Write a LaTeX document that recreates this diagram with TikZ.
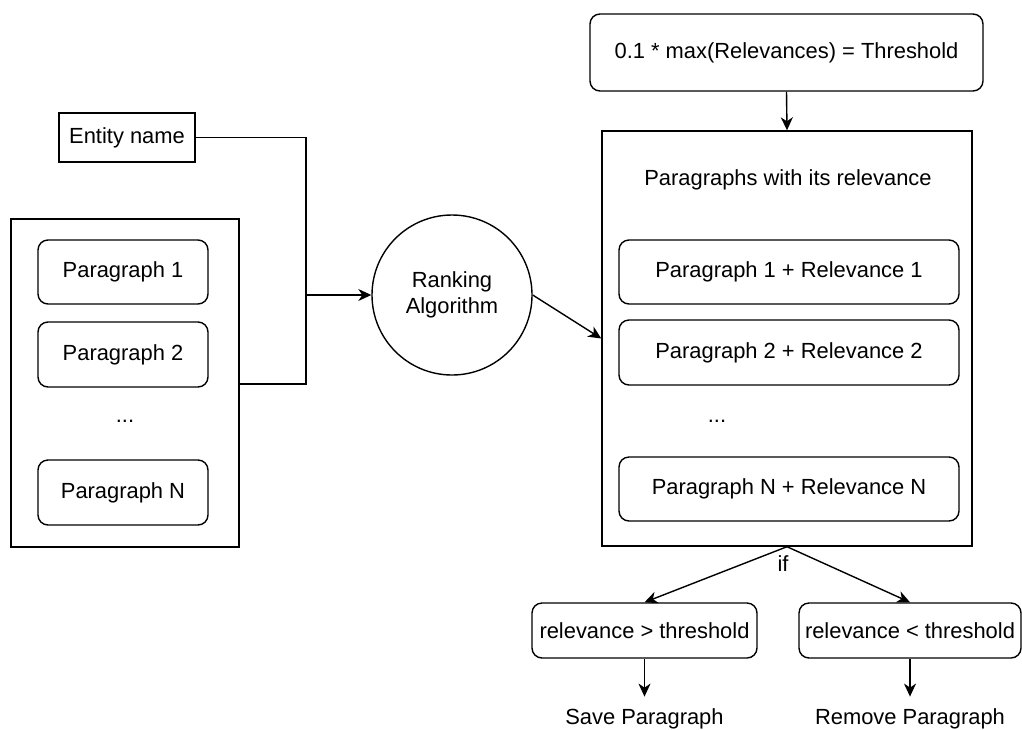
\documentclass[tikz,border=0pt]{standalone}
\usepackage{fontspec}
\setmainfont{Liberation Sans}
\usetikzlibrary{arrows.meta}

\begin{document}
\begin{tikzpicture}[x=1pt,y=-1pt,
  every node/.style={font=\fontsize{21.9}{26}\selectfont, text=black},
  plain/.style={draw, line width=1.4pt, inner sep=0pt},
  rbox/.style={draw, line width=1.4pt, rounded corners=10pt, inner sep=0pt},
  label/.style={inner sep=2pt},
  wire/.style={line width=1.4pt},
  arr/.style={line width=1.4pt, -{Stealth[length=13pt,width=12pt,inset=4pt]}},
]
\useasboundingbox (0,0) rectangle (1022,729);

% ---- input side ----
\node[plain, minimum width=136pt, minimum height=49pt] (ent) at (127,137.5) {Entity name};
\node[plain, minimum width=228pt, minimum height=328pt] (left) at (125,383) {};
\node[rbox, minimum width=170pt, minimum height=64pt] (p1) at (123,272) {Paragraph 1};
\node[rbox, minimum width=170pt, minimum height=65pt] (p2) at (123,354.5) {Paragraph 2};
\node[label] (pd) at (125,421) {...};
\node[rbox, minimum width=170pt, minimum height=65pt] (pn) at (123,492.5) {Paragraph N};

% ---- ranking ----
\node[draw, circle, line width=1.4pt, minimum size=160pt, inner sep=0pt, align=center] (rank) at (452,295) {Ranking\\Algorithm};

% ---- threshold and ranked paragraphs ----
\node[rbox, minimum width=393pt, minimum height=77pt] (thr) at (786.5,52.5) {0.1 * max(Relevances) = Threshold};
\node[plain, minimum width=370pt, minimum height=415pt] (rc) at (787,338.5) {};
\node[label] (title) at (788,180) {Paragraphs with its relevance};
\node[rbox, minimum width=340pt, minimum height=64pt] (r1) at (789,272) {Paragraph 1 + Relevance 1};
\node[rbox, minimum width=340pt, minimum height=65pt] (r2) at (789,352.5) {Paragraph 2 + Relevance 2};
\node[label] (rd) at (717,421) {...};
\node[rbox, minimum width=340pt, minimum height=64pt] (rn) at (789,489) {Paragraph N + Relevance N};

% ---- decision ----
\node[label] (if) at (783,564) {if};
\node[rbox, minimum width=225pt, minimum height=55pt] (bl) at (644.5,630.5) {relevance > threshold};
\node[rbox, minimum width=222pt, minimum height=55pt] (br) at (910,630.5) {relevance < threshold};
\node[label] (save) at (644.5,719) {Save Paragraph};
\node[label] (remove) at (910,719) {Remove Paragraph};

% ---- connectors ----
\coordinate (jbot) at (306,384);
\coordinate (jmid) at (306,295);
\draw[wire] (ent.east) -| (jbot) -- (jbot -| left.east);
\draw[arr] (jmid) -- (rank.west);
\draw[arr] (rank.east) -- (rc.west);
\draw[arr] (thr.south) -- (rc.north);
\draw[arr] (rc.south) -- (bl.north);
\draw[arr] (rc.south) -- (br.north);
\draw[arr, shorten >=10pt] (bl.south) -- (save.north);
\draw[arr, shorten >=10pt] (br.south) -- (remove.north);
\end{tikzpicture}
\end{document}
